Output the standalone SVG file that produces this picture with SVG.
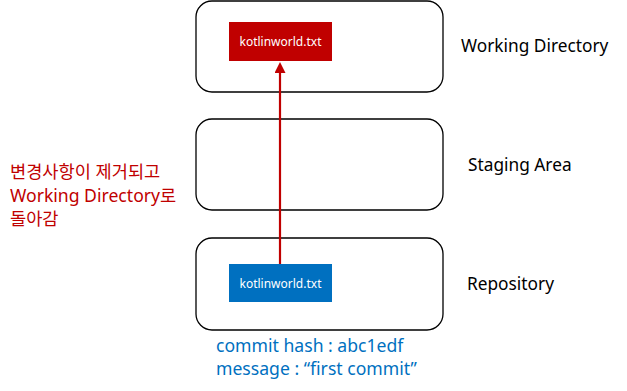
<svg xmlns="http://www.w3.org/2000/svg" width="627" height="391" viewBox="0 0 627 391">
<style>
.area{fill:#fff;stroke:#000;stroke-width:1.3}
.lbl{font-family:"Noto Sans","Noto Sans CJK KR",sans-serif;font-size:17.3px;fill:#000}
.file{font-family:"Noto Sans",sans-serif;font-size:12px;fill:#fff;text-anchor:middle}
.red{font-family:"Noto Sans","Noto Sans CJK KR",sans-serif;font-size:17.6px;fill:#c00000}
.blue{font-family:"Noto Sans",sans-serif;font-size:17.6px;fill:#0070c0}
</style>
<defs>
<marker id="ah" markerWidth="11" markerHeight="11" refX="5" refY="5.5" orient="auto" markerUnits="userSpaceOnUse" viewBox="0 0 11 11">
<path d="M0,0 L11,5.5 L0,11 Z" fill="#c00000"/>
</marker>
</defs>
<rect width="627" height="391" fill="#fff"/>
<g id="working">
<rect class="area" x="196" y="1" width="247" height="91" rx="16"/>
<text class="lbl" x="461" y="52">Working Directory</text>
</g>
<g id="staging">
<rect class="area" x="196" y="119" width="247" height="91" rx="16"/>
<text class="lbl" x="468" y="171">Staging Area</text>
</g>
<g id="repository">
<rect class="area" x="196" y="238" width="247" height="92" rx="16"/>
<text class="lbl" x="467" y="290">Repository</text>
</g>
<g id="file-working">
<rect x="229" y="22" width="103" height="39" fill="#c00000"/>
<text class="file" x="280.5" y="46">kotlinworld.txt</text>
</g>
<g id="file-repo">
<rect x="229" y="264" width="103" height="38" fill="#0070c0"/>
<text class="file" x="280.5" y="288">kotlinworld.txt</text>
</g>
<g id="connectors">
<line x1="280" y1="264" x2="280" y2="68" stroke="#c00000" stroke-width="2.2" marker-end="url(#ah)"/>
</g>
<g id="note-red">
<text class="red" x="10" y="178">변경사항이 제거되고</text>
<text class="red" x="10" y="202">Working Directory로</text>
<text class="red" x="10" y="225">돌아감</text>
</g>
<g id="note-blue">
<text class="blue" x="216" y="352">commit hash : abc1edf</text>
<text class="blue" x="216" y="375">message : “first commit”</text>
</g>
</svg>
